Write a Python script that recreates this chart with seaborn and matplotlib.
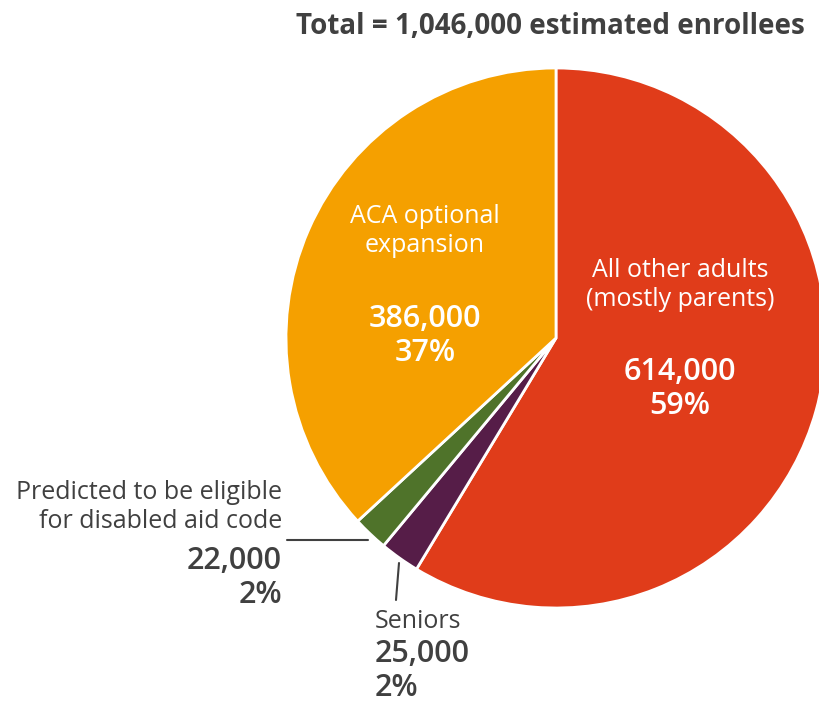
import matplotlib.pyplot as plt
import seaborn as sns

sns.set_theme(style="white")
plt.rcParams["font.family"] = ["Open Sans", "DejaVu Sans"]

# %% data
groups = ["All other adults\n(mostly parents)", "Seniors",
          "Predicted to be eligible\nfor disabled aid code", "ACA optional\nexpansion"]
enrollees = [614000, 25000, 22000, 386000]
percents = [59, 2, 2, 37]
colors = ["#E03C1A", "#561D48", "#4F732A", "#F5A000"]
title = "Total = 1,046,000 estimated enrollees"

text_color = "#404040"

fig = plt.figure(figsize=(8.2, 7.06), dpi=100)
ax = fig.add_axes([0, 0, 1, 1])

# pie in pixel-like coordinates (y measured from bottom)
H = 706
cx, cy, r = 556, H - 338, 270
ax.pie(enrollees, colors=colors, startangle=90, counterclock=False,
       center=(cx, cy), radius=r,
       wedgeprops=dict(edgecolor="white", linewidth=2))
ax.set_xlim(0, 820)
ax.set_ylim(0, H)
ax.set_aspect("equal")
ax.axis("off")


def label(x, y_name, y_num, name, value, pct, color, ha="center", size=22):
    ax.text(x, H - y_name, name, ha=ha, va="center", fontsize=18, color=color,
            linespacing=1.2)
    ax.text(x, H - y_num, f"{value:,}\n{pct}%", ha=ha, va="center",
            fontsize=size, fontweight=600, color=color, linespacing=1.2)


# inside labels
label(680, 285, 389, groups[0], enrollees[0], percents[0], "white")
label(425, 231, 336, groups[3], enrollees[3], percents[3], "white")

# outside labels with leader lines
label(282, 507, 578, groups[2], enrollees[2], percents[2], text_color, ha="right")
ax.plot([287, 368], [H - 540, H - 540], color=text_color, lw=1.5)

label(375, 621, 671, groups[1], enrollees[1], percents[1], text_color, ha="left")
ax.plot([399, 396], [H - 563, H - 600], color=text_color, lw=1.5)

ax.text(805, H - 26, title, ha="right", va="center", fontsize=20,
        fontweight="bold", color=text_color)

plt.savefig("out.png", dpi=100)
